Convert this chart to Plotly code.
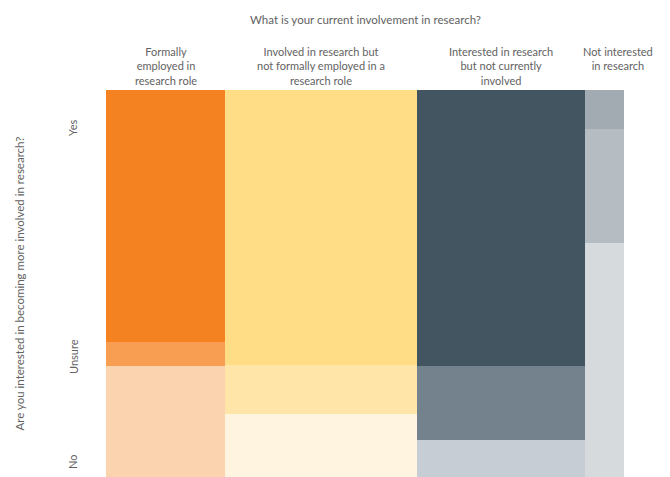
import plotly.graph_objects as go

# Columns: current involvement in research (share of respondents, %)
columns = [
    "Formally<br>employed in<br>research role",
    "Involved in research but<br>not formally employed in a<br>research role",
    "Interested in research<br>but not currently<br>involved",
    "Not interested<br>in research",
]
col_share = [23.0, 37.0, 32.4, 7.6]

# Row categories: interest in becoming more involved (% within column)
rows = ["No", "Unsure", "Yes"]
pct_no = [28.7, 16.2, 9.6, 60.4]
pct_unsure = [6.2, 12.7, 19.1, 29.5]
pct_yes = [65.1, 71.1, 71.3, 10.1]

colors_no = ["#FCD3AF", "#FEF4E0", "#C6CDD5", "#D6DADD"]
colors_unsure = ["#F89E52", "#FFE5A7", "#74828D", "#B5BCC2"]
colors_yes = ["#F58220", "#FFDD87", "#435560", "#A2ABB2"]

row_values = [pct_no, pct_unsure, pct_yes]
row_colors = [colors_no, colors_unsure, colors_yes]

# derived x positions from shares
total = sum(col_share)
lefts = []
acc = 0.0
for s in col_share:
    lefts.append(acc)
    acc += s
centers = [l + s / 2 for l, s in zip(lefts, col_share)]

fig = go.Figure()
base = [0.0] * len(columns)
for name, vals, cols in zip(rows, row_values, row_colors):
    fig.add_trace(go.Bar(
        x=centers, y=vals, width=col_share, base=base[:],
        marker=dict(color=cols, line=dict(width=0)),
        name=name, showlegend=False, hoverinfo="skip",
    ))
    base = [b + v for b, v in zip(base, vals)]

FONT = "Lato, 'Open Sans', sans-serif"
GREY = "#626262"

annotations = []
label_x = centers[:3] + [centers[3] + 2.7]
for lx, txt in zip(label_x, columns):
    annotations.append(dict(
        x=lx, y=1, xref="x", yref="paper", yanchor="top", xanchor="center",
        yshift=47, text=txt, showarrow=False,
        font=dict(family=FONT, size=11, color=GREY), align="center"))

annotations.append(dict(
    x=0.5, y=1, xref="paper", yref="paper", yanchor="middle", xanchor="center",
    yshift=71, text="What is your current involvement in research?",
    showarrow=False, font=dict(family=FONT, size=11.5, color=GREY)))

annotations.append(dict(
    x=0, y=0.5, xref="paper", yref="paper", xanchor="center", yanchor="middle",
    xshift=-87, text="Are you interested in becoming more involved in research?",
    textangle=-90, showarrow=False, font=dict(family=FONT, size=11.5, color=GREY)))

# row labels
row_label_y = [3.9, 31.0, 90.2]
for ry, txt in zip(row_label_y, rows):
    annotations.append(dict(
        x=0, y=ry, xref="paper", yref="y", xanchor="center", yanchor="middle",
        xshift=-33, text=txt, textangle=-90, showarrow=False,
        font=dict(family=FONT, size=11, color=GREY)))

# page body has an 8px margin; size the figure so the plot lands in place
fig.update_layout(
    width=662, height=469,
    margin=dict(l=98, r=46, t=82, b=0),
    paper_bgcolor="white", plot_bgcolor="white",
    barmode="overlay", bargap=0,
    xaxis=dict(range=[0, total], visible=False, fixedrange=True),
    yaxis=dict(range=[0, 100], visible=False, fixedrange=True),
    annotations=annotations,
    font=dict(family=FONT, color=GREY),
)

fig.write_html("out.html")
